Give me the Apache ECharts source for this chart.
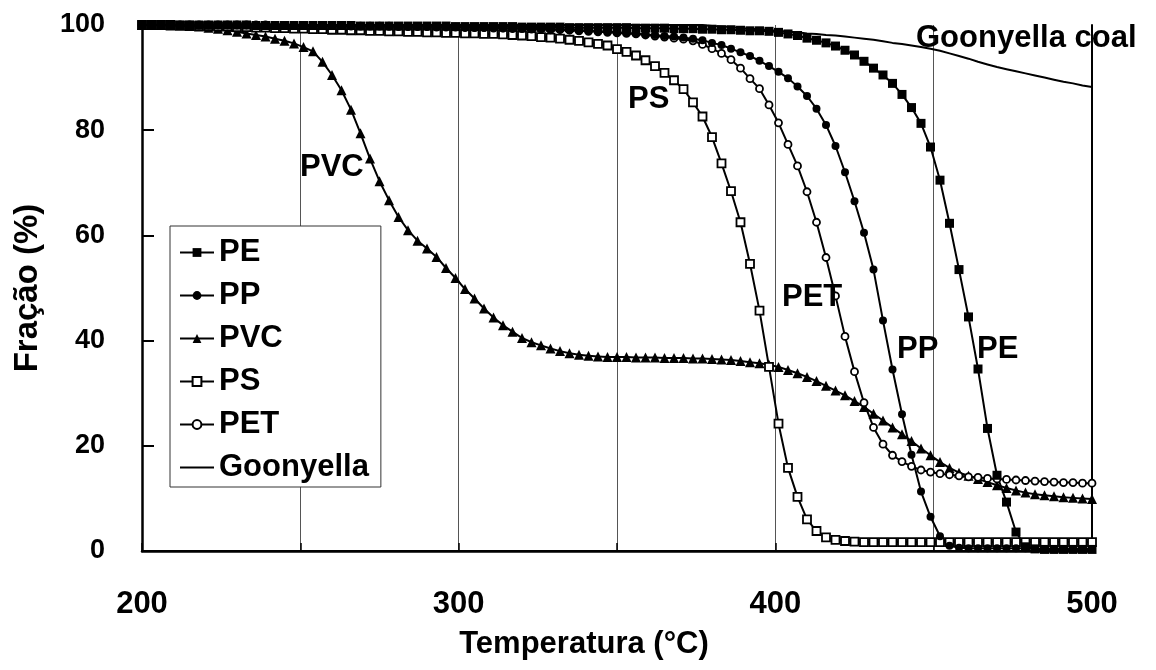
<!DOCTYPE html>
<html>
<head>
<meta charset="utf-8">
<script src="https://cdn.jsdelivr.net/npm/echarts@6/dist/echarts.min.js"></script>
<style>
  html, body { margin: 0; padding: 0; background: #fff; }
  #chart { width: 1156px; height: 670px; }
</style>
</head>
<body>
<div id="chart"></div>
<script>
// temperatures (°C), one reading every 3 degrees
const temps = [
  200, 203, 206, 209, 212, 215, 218, 221, 224, 227,
  230, 233, 236, 239, 242, 245, 248, 251, 254, 257,
  260, 263, 266, 269, 272, 275, 278, 281, 284, 287,
  290, 293, 296, 299, 302, 305, 308, 311, 314, 317,
  320, 323, 326, 329, 332, 335, 338, 341, 344, 347,
  350, 353, 356, 359, 362, 365, 368, 371, 374, 377,
  380, 383, 386, 389, 392, 395, 398, 401, 404, 407,
  410, 413, 416, 419, 422, 425, 428, 431, 434, 437,
  440, 443, 446, 449, 452, 455, 458, 461, 464, 467,
  470, 473, 476, 479, 482, 485, 488, 491, 494, 497,
  500
];

const pe = [
  100, 100, 100, 100, 100, 100, 100, 100, 100, 100,
  100, 100, 99.9, 99.9, 99.9, 99.9, 99.9, 99.9, 99.9, 99.9,
  99.9, 99.9, 99.9, 99.8, 99.8, 99.8, 99.8, 99.8, 99.8, 99.8,
  99.8, 99.8, 99.8, 99.7, 99.7, 99.7, 99.7, 99.7, 99.7, 99.7,
  99.6, 99.6, 99.6, 99.6, 99.6, 99.5, 99.5, 99.5, 99.5, 99.5,
  99.5, 99.5, 99.4, 99.4, 99.4, 99.4, 99.3, 99.3, 99.3, 99.2,
  99.2, 99.1, 99.1, 99.0, 98.9, 98.9, 98.8, 98.6, 98.3, 98.0,
  97.5, 97.1, 96.6, 96.0, 95.2, 94.3, 93.1, 91.8, 90.5, 88.9,
  86.8, 84.3, 81.3, 76.8, 70.5, 62.3, 53.5, 44.5, 34.6, 23.3,
  14.4, 9.3, 3.6, 0.8, 0.4, 0.3, 0.3, 0.3, 0.3, 0.3,
  0.3
];

const pp = [
  100, 100, 100, 100, 100, 100, 100, 100, 100, 100,
  100, 100, 100, 99.9, 99.9, 99.9, 99.9, 99.9, 99.9, 99.9,
  99.9, 99.8, 99.8, 99.8, 99.8, 99.8, 99.7, 99.7, 99.7, 99.7,
  99.7, 99.6, 99.6, 99.6, 99.6, 99.5, 99.5, 99.5, 99.4, 99.4,
  99.4, 99.3, 99.3, 99.2, 99.2, 99.1, 99.0, 98.9, 98.8, 98.7,
  98.6, 98.5, 98.4, 98.2, 98.1, 97.9, 97.8, 97.6, 97.4, 97.1,
  96.6, 96.2, 95.5, 94.8, 94.1, 93.2, 92.2, 91.1, 89.9, 88.3,
  86.5, 84.1, 81.0, 77.0, 72.0, 66.5, 60.5, 53.5, 43.8, 34.5,
  26.0, 18.3, 11.3, 6.5, 2.8, 1.0, 0.6, 0.5, 0.5, 0.5,
  0.5, 0.5, 0.5, 0.5, 0.4, 0.4, 0.4, 0.4, 0.4, 0.4,
  0.4
];

const pvc = [
  100, 100, 100, 99.9, 99.9, 99.8, 99.7, 99.5, 99.3, 99.0,
  98.7, 98.4, 98.1, 97.8, 97.4, 97.0, 96.5, 95.8, 95.0, 93.0,
  90.5, 87.6, 83.9, 79.4, 74.6, 70.3, 66.7, 63.5, 61.0, 59.0,
  57.5, 55.9, 53.8, 51.9, 49.8, 48.0, 46.1, 44.4, 42.9, 41.7,
  40.5, 39.7, 39.1, 38.5, 38.0, 37.6, 37.3, 37.1, 37.0, 36.9,
  36.9, 36.9, 36.8, 36.8, 36.8, 36.7, 36.7, 36.7, 36.6, 36.6,
  36.5, 36.4, 36.3, 36.1, 35.9, 35.7, 35.4, 35.0, 34.4, 33.8,
  33.1, 32.3, 31.4, 30.5, 29.6, 28.5, 27.4, 26.1, 24.8, 23.5,
  22.2, 20.9, 19.5, 18.2, 16.9, 15.8, 14.9, 14.3, 13.7, 13.1,
  12.5, 12.0, 11.5, 11.1, 10.8, 10.6, 10.4, 10.2, 10.1, 10.0,
  9.9
];

const ps = [
  100, 100, 100, 100, 99.9, 99.9, 99.8, 99.8, 99.7, 99.7,
  99.6, 99.6, 99.5, 99.5, 99.4, 99.4, 99.3, 99.3, 99.2, 99.2,
  99.1, 99.1, 99.0, 99.0, 98.9, 98.9, 98.8, 98.8, 98.7, 98.7,
  98.6, 98.6, 98.5, 98.5, 98.4, 98.4, 98.3, 98.3, 98.2, 98.1,
  98.0, 97.9, 97.7, 97.6, 97.4, 97.2, 97.0, 96.7, 96.4, 96.1,
  95.4, 94.9, 94.2, 93.3, 92.2, 90.9, 89.5, 87.8, 85.3, 82.6,
  78.7, 73.7, 68.4, 62.5, 54.6, 45.7, 35.0, 24.2, 15.8, 10.3,
  6.0, 3.8, 2.6, 2.1, 1.9, 1.8, 1.7, 1.7, 1.7, 1.7,
  1.7, 1.7, 1.7, 1.7, 1.7, 1.7, 1.7, 1.7, 1.7, 1.7,
  1.7, 1.7, 1.7, 1.7, 1.7, 1.7, 1.7, 1.7, 1.7, 1.7,
  1.7
];

const pet = [
  100, 100, 100, 100, 100, 100, 100, 100, 100, 100,
  100, 100, 100, 100, 99.9, 99.9, 99.9, 99.9, 99.9, 99.9,
  99.9, 99.9, 99.8, 99.8, 99.8, 99.8, 99.8, 99.7, 99.7, 99.7,
  99.7, 99.6, 99.6, 99.6, 99.5, 99.5, 99.5, 99.4, 99.4, 99.3,
  99.3, 99.2, 99.2, 99.1, 99.1, 99.0, 98.9, 98.8, 98.7, 98.6,
  98.5, 98.4, 98.3, 98.1, 97.9, 97.7, 97.5, 97.3, 97.0, 96.3,
  95.5, 94.6, 93.4, 91.8, 89.8, 87.9, 84.8, 81.4, 77.3, 73.2,
  68.3, 62.5, 55.8, 48.5, 40.8, 34.1, 28.2, 23.5, 20.3, 18.2,
  17.0, 16.1, 15.4, 15.0, 14.7, 14.5, 14.3, 14.1, 14.0, 13.8,
  13.7, 13.6, 13.5, 13.4, 13.3, 13.2, 13.1, 13.0, 13.0, 12.9,
  12.9
];

const goonyella = [
  100, 100, 100, 100, 100, 100, 100, 100, 100, 100,
  100, 100, 100, 100, 100, 100, 100, 100, 100, 100,
  100, 100, 100, 100, 100, 100, 100, 100, 100, 100,
  100, 100, 100, 100, 100, 100, 100, 100, 100, 100,
  100, 100, 100, 100, 100, 100, 100, 100, 100, 100,
  100, 100, 100, 100, 100, 100, 100, 100, 100, 100,
  99.8, 99.7, 99.6, 99.4, 99.3, 99.2, 99.0, 98.9, 98.7, 98.6,
  98.4, 98.3, 98.1, 98.0, 97.8, 97.6, 97.4, 97.2, 96.9, 96.6,
  96.4, 96.1, 95.8, 95.5, 95.1, 94.6, 94.1, 93.6, 93.0, 92.5,
  92.0, 91.6, 91.2, 90.8, 90.4, 90.0, 89.6, 89.2, 88.9, 88.5,
  88.2
];

const xTickLabels = [200, 300, 400, 500];
const legendNames = ['PE', 'PP', 'PVC', 'PS', 'PET', 'Goonyella'];

const sans = '"Liberation Sans", Arial, sans-serif';

function pairs(vals) {
  return temps.map(function (t, i) { return [t, vals[i]]; });
}

function curve(name, vals, symbol, size, hollow) {
  let item;
  if (symbol === 'none') {
    item = { color: 'rgba(0,0,0,0)', borderWidth: 0 };
  } else if (hollow) {
    item = { color: '#fff', borderColor: '#000', borderWidth: 1.8 };
  } else {
    item = { color: '#000', borderColor: '#000', borderWidth: 0 };
  }
  return {
    name: name,
    type: 'line',
    data: pairs(vals),
    symbol: symbol,
    symbolSize: size,
    showSymbol: symbol !== 'none',
    showAllSymbol: true,
    lineStyle: { color: '#000', width: 2 },
    itemStyle: item,
    emphasis: { disabled: true }
  };
}

function label(text, x, y) {
  return {
    type: 'text',
    left: x,
    top: y,
    z: 50,
    style: {
      text: text,
      font: 'bold 31px ' + sans,
      fill: '#000'
    }
  };
}

let myChart = echarts.init(document.getElementById('chart'));
myChart.setOption({
  animation: false,
  backgroundColor: '#fff',
  grid: { left: 142, right: 64, top: 25, bottom: 119 },
  legend: {
    data: legendNames,
    orient: 'vertical',
    left: 170,
    top: 226,
    padding: [11, 12, 4, 9],
    itemGap: 12,
    itemWidth: 34,
    itemHeight: 11,
    borderColor: '#333',
    borderWidth: 1,
    backgroundColor: '#fff',
    selectedMode: false,
    textStyle: { fontFamily: sans, fontSize: 31, fontWeight: 'bold', lineHeight: 31, color: '#000' }
  },
  xAxis: [
    {
      type: 'value',
      min: 200,
      max: 500,
      interval: 50,
      name: 'Temperatura (°C)',
      nameLocation: 'middle',
      nameGap: 78,
      nameTextStyle: {
        fontFamily: sans, fontSize: 31, fontWeight: 'bold', color: '#000',
        padding: [0, 66, 0, 0]
      },
      axisLine: { lineStyle: { color: '#000', width: 2.5 } },
      axisTick: { inside: true, length: 8, lineStyle: { color: '#000', width: 1.5 } },
      axisLabel: {
        margin: 38,
        fontFamily: sans,
        fontSize: 31,
        fontWeight: 'bold',
        color: '#000',
        formatter: function (v) { return xTickLabels.indexOf(v) >= 0 ? String(v) : ''; }
      },
      splitLine: { show: true, lineStyle: { color: '#555', width: 1 } }
    },
    {
      type: 'value',
      position: 'top',
      min: 200,
      max: 500,
      axisLine: { show: true, lineStyle: { color: '#000', width: 2 } },
      axisTick: { show: false },
      axisLabel: { show: false },
      splitLine: { show: false }
    }
  ],
  yAxis: [
    {
      type: 'value',
      min: 0,
      max: 100,
      interval: 20,
      name: 'Fração (%)',
      nameLocation: 'middle',
      nameGap: 98,
      nameTextStyle: { fontFamily: sans, fontSize: 33, fontWeight: 'bold', color: '#000' },
      axisLine: { show: true, lineStyle: { color: '#000', width: 2.5 } },
      axisTick: { inside: true, length: 12, lineStyle: { color: '#000', width: 2 } },
      axisLabel: { margin: 37, fontFamily: sans, fontSize: 27, fontWeight: 'bold', color: '#000' },
      splitLine: { show: false }
    },
    {
      type: 'value',
      position: 'right',
      min: 0,
      max: 100,
      axisLine: { show: true, lineStyle: { color: '#000', width: 2 } },
      axisTick: { show: false },
      axisLabel: { show: false },
      splitLine: { show: false }
    }
  ],
  series: [
    curve('Goonyella', goonyella, 'none', 0, false),
    curve('PVC', pvc, 'triangle', 10, false),
    curve('PS', ps, 'rect', 8, true),
    curve('PET', pet, 'circle', 7, true),
    curve('PP', pp, 'circle', 8, false),
    curve('PE', pe, 'rect', 9, false)
  ],
  graphic: [
    label('PVC', 300, 152),
    label('PS', 628, 84),
    label('PET', 782, 282),
    label('PP', 897, 334),
    label('PE', 977, 334),
    label('Goonyella coal', 916, 23)
  ]
});
</script>
</body>
</html>
